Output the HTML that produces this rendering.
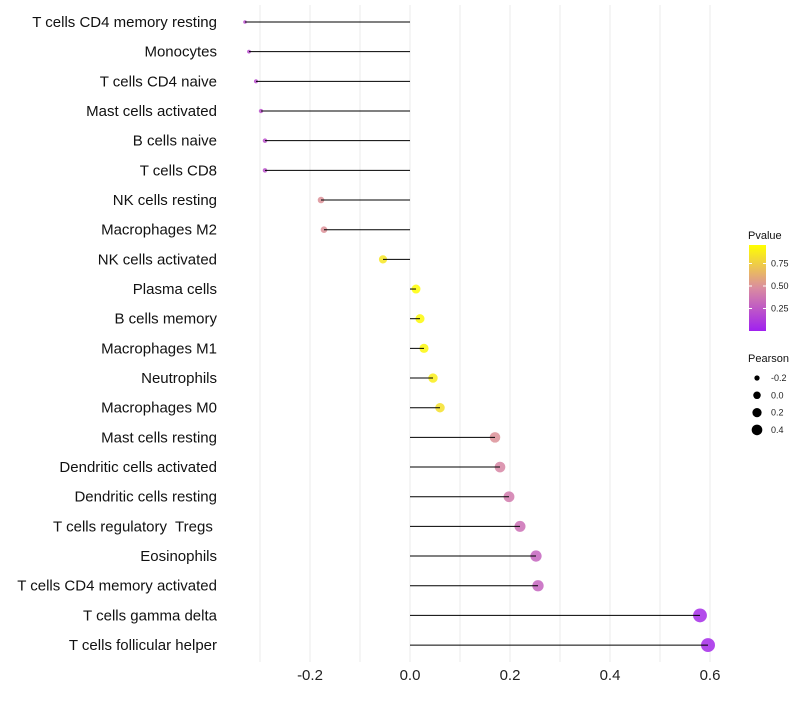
<!DOCTYPE html>
<html><head><meta charset="utf-8"><style>
body{margin:0;background:#fff;font-family:"Liberation Sans",sans-serif;}
text{white-space:pre;}
</style></head><body>
<svg id="chart" width="800" height="700" xmlns="http://www.w3.org/2000/svg"></svg>
<script>
const categories=["T cells CD4 memory resting","Monocytes","T cells CD4 naive","Mast cells activated","B cells naive","T cells CD8","NK cells resting","Macrophages M2","NK cells activated","Plasma cells","B cells memory","Macrophages M1","Neutrophils","Macrophages M0","Mast cells resting","Dendritic cells activated","Dendritic cells resting","T cells regulatory  Tregs ","Eosinophils","T cells CD4 memory activated","T cells gamma delta","T cells follicular helper"];
const pearson=[-0.33,-0.322,-0.308,-0.298,-0.29,-0.29,-0.178,-0.172,-0.054,0.012,0.02,0.028,0.046,0.06,0.17,0.18,0.198,0.22,0.252,0.256,0.58,0.596];
const pvalues=[0.2,0.2,0.2,0.22,0.22,0.22,0.5,0.5,0.85,0.95,0.93,0.92,0.88,0.83,0.5,0.45,0.4,0.35,0.3,0.3,0.05,0.04];
const xTicks=[-0.2,0,0.2,0.4,0.6];
const xTickLabels=["-0.2","0.0","0.2","0.4","0.6"];
const legendP=[0.75,0.5,0.25];
const legendR=[-0.2,0,0.2,0.4];
const NS="http://www.w3.org/2000/svg";
const svg=document.getElementById('chart');
const x=v=>410+v*500;
const y=i=>22+i*29.67;
const rad=v=>Math.sqrt(3.24+49.2*Math.max(0,v+0.33));
function col(p){const t=Math.max(0,Math.min(1,p/0.955));
 const a=[160,32,240],m=[218,140,160],b=[255,255,0];let c;
 if(t<0.5){const u=t/0.5;c=a.map((q,k)=>q+(m[k]-q)*u);}else{const u=(t-0.5)/0.5;c=m.map((q,k)=>q+(b[k]-q)*u);}
 return `rgb(${c.map(Math.round).join(',')})`;}
function mk(tag,at,txt){const e=document.createElementNS(NS,tag);for(const k in at)e.setAttribute(k,at[k]);if(txt!==undefined)e.textContent=txt;svg.appendChild(e);return e;}
for(let v=-0.3;v<=0.61;v+=0.1){const g=mk('line',{x1:x(v),x2:x(v),y1:5,y2:662,stroke:'#ebebeb','stroke-width':1});

}
xTicks.forEach((v,i)=>{const t=mk('text',{x:x(v),y:680,'font-size':15,'text-anchor':'middle',fill:'#222'},xTickLabels[i]);

});
categories.forEach((c,i)=>{
 const t=mk('text',{x:217,y:y(i)+5,'font-size':15,'text-anchor':'end',fill:'#111'},c);
 
 
 const p=mk('circle',{cx:x(pearson[i]),cy:y(i),r:rad(pearson[i]),fill:col(pvalues[i]),'fill-opacity':0.85});
 
 
 const l=mk('line',{x1:x(0),x2:x(pearson[i]),y1:y(i),y2:y(i),stroke:'#000','stroke-width':1});
 
 
});
const defs=mk('defs',{});const lg=document.createElementNS(NS,'linearGradient');lg.setAttribute('id','pg');lg.setAttribute('x1',0);lg.setAttribute('y1',1);lg.setAttribute('x2',0);lg.setAttribute('y2',0);defs.appendChild(lg);
[0,0.25,0.5,0.75,1].forEach(s=>{const st=document.createElementNS(NS,'stop');st.setAttribute('offset',s);st.setAttribute('stop-color',col(s*0.955));lg.appendChild(st);});
const lt=mk('text',{x:748,y:239,'font-size':11,fill:'#111'},'Pvalue');


const cb=mk('rect',{x:749,y:245,width:17,height:86,fill:'url(#pg)'});


legendP.forEach(p=>{const yy=331-p*90;mk('line',{x1:749,x2:752,y1:yy,y2:yy,stroke:'#fff'});mk('line',{x1:763,x2:766,y1:yy,y2:yy,stroke:'#fff'});
 const t=mk('text',{x:771,y:yy+3,'font-size':9,fill:'#222'},p.toFixed(2));
 
 });
const pt=mk('text',{x:748,y:362,'font-size':11,fill:'#111'},'Pearson');


legendR.forEach((v,i)=>{const yy=378+i*17.3;
 const c=mk('circle',{cx:757,cy:yy,r:rad(v)*0.85,fill:'#000'});
 
 
 const t=mk('text',{x:771,y:yy+3,'font-size':9,fill:'#222'},v.toFixed(1));
 
 });
</script>
</body></html>
